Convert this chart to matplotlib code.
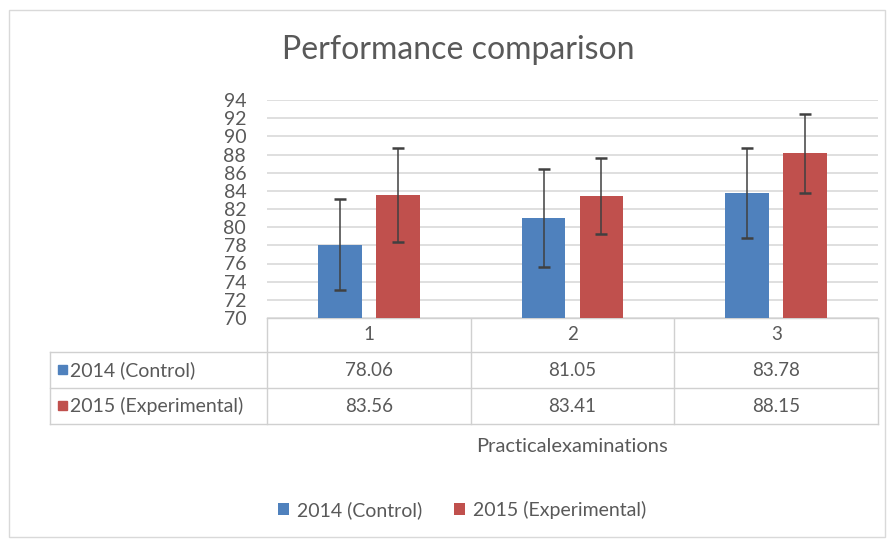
import matplotlib.pyplot as plt
import matplotlib.transforms as mtransforms
from matplotlib.patches import Rectangle

plt.rcParams["font.family"] = ["Lato", "DejaVu Sans"]

exams = ["1", "2", "3"]
series = ["2014 (Control)", "2015 (Experimental)"]
control = [78.06, 81.05, 83.78]
experimental = [83.56, 83.41, 88.15]
control_err = [5.0, 5.4, 4.95]
experimental_err = [5.15, 4.2, 4.35]
yticks = list(range(70, 95, 2))

blue = "#4F81BD"
red = "#C0504D"
text_c = "#595959"
grid_c = "#D9D9D9"

W, H = 894, 541
fig = plt.figure(figsize=(W / 100, H / 100), dpi=100)

# overlay in pixel coordinates for the frame and data table
over = fig.add_axes([0, 0, 1, 1])
over.set_xlim(0, W)
over.set_ylim(H, 0)
over.axis("off")
over.add_patch(Rectangle((9, 10), 876, 527, fill=False, ec="#D9D9D9", lw=1))

left, right, top, bottom = 267, 878, 100, 318
ax = fig.add_axes([left / W, (H - bottom) / H, (right - left) / W, (bottom - top) / H])

x = range(len(exams))
bw = 0.215
off = 0.142
ekw = dict(ecolor="#404040", elinewidth=1.1, capsize=4, capthick=1.8)
ax.bar([i - off for i in x], control, bw, color=blue, yerr=control_err,
       error_kw=ekw, zorder=3, label=series[0])
ax.bar([i + off for i in x], experimental, bw, color=red, yerr=experimental_err,
       error_kw=ekw, zorder=3, label=series[1])

ax.set_xlim(-0.5, len(exams) - 0.5)
ax.set_ylim(70, 94)
ax.set_yticks(yticks)
ax.set_xticks([])
ax.yaxis.grid(True, color=grid_c, lw=1.2, zorder=0)
for s in ax.spines.values():
    s.set_visible(False)
ax.tick_params(axis="y", length=0, pad=15, labelsize=14, labelcolor=text_c)

# data table under the plot
tr = mtransforms.blended_transform_factory(ax.transData, over.transData)
rows = [bottom, 352, 388, 424]
line_c = "#D0D0D0"
tbl_left = 50
over.plot([left, right], [rows[0], rows[0]], color=line_c, lw=1)
for r in rows[1:]:
    over.plot([tbl_left, right], [r, r], color=line_c, lw=1)
over.plot([tbl_left, tbl_left], [rows[1], rows[3]], color=line_c, lw=1)
for b in [i - 0.5 for i in range(len(exams) + 1)]:
    over.plot([b, b], [rows[0], rows[3]], color=line_c, lw=1, transform=tr)

for i, lab in enumerate(exams):
    over.text(i, (rows[0] + rows[1]) / 2, lab, transform=tr, ha="center",
              va="center", fontsize=13.5, color=text_c)
for ri, (name, vals, col) in enumerate([(series[0], control, blue),
                                        (series[1], experimental, red)]):
    yc = (rows[ri + 1] + rows[ri + 2]) / 2
    over.add_patch(Rectangle((58, yc - 5), 9, 9, color=col))
    over.text(70, yc, name, ha="left", va="center", fontsize=14, color=text_c)
    for i, v in enumerate(vals):
        over.text(i, yc, f"{v:.2f}", transform=tr, ha="center", va="center",
                  fontsize=13.5, color=text_c)

over.text((left + right) / 2, 447, "Practicalexaminations", ha="center",
          va="center", fontsize=14.5, color=text_c)
over.text(458, 50, "Performance comparison", ha="center", va="center",
          fontsize=23, color=text_c)

fig.legend(loc="center", bbox_to_anchor=(462 / W, (H - 510) / H), ncol=2,
           frameon=False, fontsize=14, labelcolor=text_c, handlelength=0.6,
           handleheight=0.6, handletextpad=0.4, columnspacing=1.6)

fig.savefig("out.png", dpi=100, facecolor="white")
